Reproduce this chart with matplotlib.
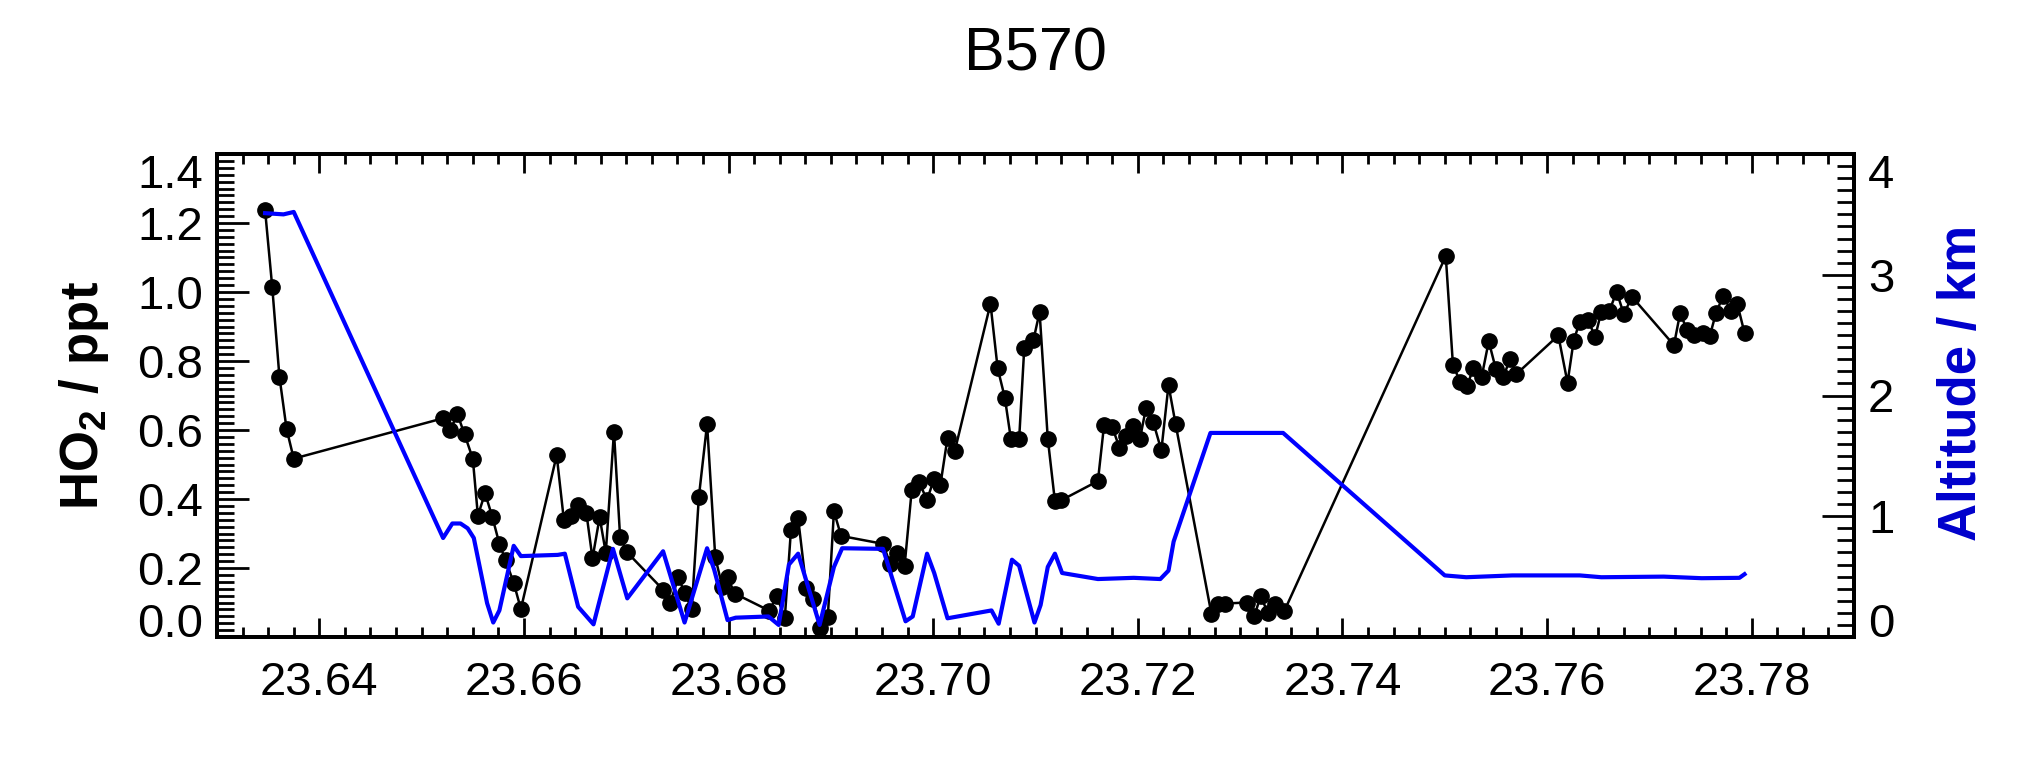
import matplotlib
matplotlib.use('Agg')
import matplotlib.pyplot as plt
from matplotlib.ticker import MultipleLocator

# HO2 mixing ratio (black dots), time in hours
ho2_time = [23.6347, 23.6354, 23.6361, 23.6368, 23.6375,
            23.6521, 23.6528, 23.6535, 23.6542, 23.6550, 23.6555, 23.6562,
            23.6569, 23.6576, 23.6582, 23.6590, 23.6597,
            23.6632, 23.6639, 23.6646, 23.6653, 23.6661, 23.6667, 23.6674,
            23.6680, 23.6688, 23.6694, 23.6701,
            23.6736, 23.6743, 23.6751, 23.6757, 23.6764, 23.6771, 23.6779,
            23.6787, 23.6794, 23.6799, 23.6806,
            23.6840, 23.6847, 23.6855, 23.6861, 23.6868, 23.6876, 23.6883,
            23.6889, 23.6897, 23.6903, 23.6910,
            23.6951, 23.6958, 23.6965, 23.6972, 23.6979, 23.6986, 23.6994,
            23.7001, 23.7007, 23.7014, 23.7021,
            23.7056, 23.7063, 23.7070, 23.7076, 23.7084, 23.7089, 23.7098,
            23.7104, 23.7112, 23.7119, 23.7125,
            23.7161, 23.7167, 23.7175, 23.7182, 23.7188, 23.7195, 23.7202,
            23.7208, 23.7215, 23.7223, 23.7230, 23.7237,
            23.7272, 23.7278, 23.7285, 23.7307, 23.7314, 23.7320, 23.7327,
            23.7334, 23.7343,
            23.7501, 23.7508, 23.7515, 23.7522, 23.7528, 23.7536, 23.7543,
            23.7550, 23.7557, 23.7564, 23.7570,
            23.7611, 23.7620, 23.7626, 23.7632, 23.7640, 23.7647, 23.7653,
            23.7661, 23.7668, 23.7675, 23.7683,
            23.7724, 23.7730, 23.7737, 23.7744, 23.7752, 23.7759, 23.7765,
            23.7772, 23.7780, 23.7786, 23.7793]
ho2_ppt = [1.237, 1.014, 0.755, 0.603, 0.517,
           0.634, 0.600, 0.646, 0.587, 0.517, 0.352, 0.417,
           0.349, 0.270, 0.223, 0.157, 0.081,
           0.527, 0.340, 0.351, 0.384, 0.360, 0.228, 0.347,
           0.244, 0.595, 0.289, 0.245,
           0.137, 0.100, 0.173, 0.128, 0.081, 0.407, 0.617,
           0.231, 0.144, 0.173, 0.126,
           0.076, 0.119, 0.056, 0.311, 0.344, 0.142, 0.110,
           0.027, 0.058, 0.364, 0.293,
           0.270, 0.212, 0.244, 0.205, 0.425, 0.449, 0.398,
           0.459, 0.440, 0.577, 0.538,
           0.966, 0.779, 0.694, 0.573, 0.573, 0.837, 0.861,
           0.942, 0.575, 0.393, 0.396,
           0.452, 0.614, 0.609, 0.549, 0.582, 0.611, 0.573,
           0.664, 0.624, 0.541, 0.730, 0.616,
           0.066, 0.095, 0.097, 0.100, 0.061, 0.119, 0.071,
           0.095, 0.074,
           1.104, 0.789, 0.740, 0.728, 0.781, 0.753, 0.857,
           0.776, 0.753, 0.806, 0.762,
           0.874, 0.737, 0.859, 0.914, 0.919, 0.870, 0.943,
           0.946, 1.001, 0.936, 0.986,
           0.846, 0.938, 0.890, 0.875, 0.880, 0.872, 0.938,
           0.988, 0.946, 0.965, 0.881]

# aircraft altitude (blue line)
alt_time = [23.6347, 23.6365, 23.6375, 23.6521, 23.6530, 23.6538, 23.6545,
            23.6551, 23.6564, 23.6570, 23.6576, 23.6590, 23.6597, 23.6633,
            23.6640, 23.6653, 23.6668, 23.6687, 23.6701, 23.6736, 23.6757,
            23.6779, 23.6786, 23.6799, 23.6807, 23.6839, 23.6849, 23.6859,
            23.6868, 23.6889, 23.6903, 23.6911, 23.6951, 23.6973, 23.6980,
            23.6994, 23.7001, 23.7014, 23.7057, 23.7064, 23.7077, 23.7084,
            23.7099, 23.7105, 23.7112, 23.7119, 23.7126, 23.7161, 23.7196,
            23.7222, 23.7230, 23.7235, 23.7271, 23.7342, 23.7500, 23.7521,
            23.7566, 23.7632, 23.7653, 23.7714, 23.7751, 23.7788, 23.7793]
alt_km = [3.51, 3.50, 3.52, 0.82, 0.94, 0.94, 0.90,
          0.82, 0.28, 0.12, 0.22, 0.755, 0.67, 0.68,
          0.69, 0.25, 0.105, 0.73, 0.32, 0.71, 0.12,
          0.735, 0.556, 0.14, 0.16, 0.17, 0.10, 0.60,
          0.69, 0.10, 0.58, 0.735, 0.73, 0.13, 0.17,
          0.69, 0.53, 0.155, 0.22, 0.11, 0.64, 0.59,
          0.12, 0.265, 0.58, 0.69, 0.53, 0.48, 0.49,
          0.48, 0.55, 0.79, 1.69, 1.69, 0.51, 0.495,
          0.51, 0.51, 0.495, 0.50, 0.487, 0.49, 0.52]

x_ticks = [23.64, 23.66, 23.68, 23.70, 23.72, 23.74, 23.76, 23.78]
ho2_ticks = [0.0, 0.2, 0.4, 0.6, 0.8, 1.0, 1.2, 1.4]
alt_ticks = [0, 1, 2, 3, 4]

plt.rcParams['font.family'] = ['Liberation Sans', 'DejaVu Sans']
plt.rcParams['mathtext.fontset'] = 'custom'
plt.rcParams['mathtext.rm'] = 'Liberation Sans'
plt.rcParams['mathtext.bf'] = 'Liberation Sans:bold'

fig = plt.figure(figsize=(20.21, 7.64), dpi=100)
ax = fig.add_axes([217 / 2021, 1 - 637 / 764, 1637 / 2021, 483 / 764])
ax2 = ax.twinx()

ax.plot(ho2_time, ho2_ppt, '-o', color='black', lw=1.8, ms=11)
ax2.plot(alt_time, alt_km, '-', color='#0000ff', lw=3)

ax.set_xlim(23.63, 23.79)
ax.set_ylim(0, 1.4)
ax2.set_ylim(0, 4)

ax.set_xticks(x_ticks)
ax.set_xticklabels(['%.2f' % t for t in x_ticks])
ax.xaxis.set_minor_locator(MultipleLocator(0.0025))
ax.set_yticks(ho2_ticks)
ax.set_yticklabels(['%.1f' % t for t in ho2_ticks])
ax.yaxis.set_minor_locator(MultipleLocator(0.02))
ax2.set_yticks(alt_ticks)
ax2.set_yticklabels([str(t) for t in alt_ticks])
ax2.yaxis.set_minor_locator(MultipleLocator(0.1))

ax.tick_params(axis='x', which='major', direction='in', length=14, width=2,
               top=True, labelsize=34, pad=17)
ax.tick_params(axis='x', which='minor', direction='in', length=7.5, width=2,
               top=True)
ax.tick_params(axis='y', which='major', direction='in', length=23, width=2,
               labelsize=34, pad=10)
ax.tick_params(axis='y', which='minor', direction='in', length=12, width=2)
ax2.tick_params(axis='y', which='major', direction='in', length=23, width=2,
                labelsize=34, pad=10)
ax2.tick_params(axis='y', which='minor', direction='in', length=12, width=2)

for a in (ax, ax2):
    for sp in a.spines.values():
        sp.set_linewidth(2.8)

# IDL style: end labels kept inside the axis range
for a in (ax, ax2):
    lab = a.get_yticklabels()
    lab[0].set_va('baseline')
    lab[-1].set_va('top')

ax.set_ylabel(r'HO$_\mathbf{2}$ / ppt', fontsize=38, fontweight='bold')
ax.yaxis.set_label_coords(-0.065, 0.5)
ax2.set_ylabel('Altitude / km', fontsize=38, fontweight='bold',
               color='#0000cc')
ax2.yaxis.set_label_coords(1.051, 0.527)

ax.set_title('B570', fontsize=44, pad=60)

fig.savefig('out.png', dpi=100, facecolor='white')
